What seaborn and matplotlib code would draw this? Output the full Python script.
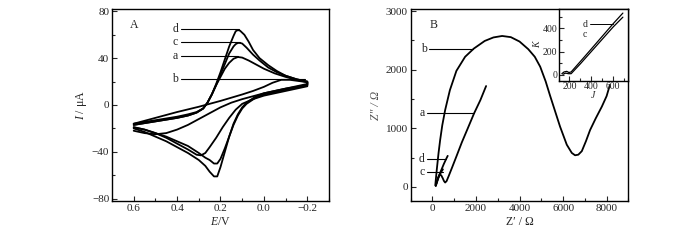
import matplotlib
matplotlib.use("Agg")
import matplotlib.pyplot as plt
import seaborn as sns
from matplotlib.ticker import MultipleLocator

# ---------------- Panel A: cyclic voltammograms ----------------
# curve a
a_E = [0.60, 0.50, 0.40, 0.35, 0.31, 0.28, 0.26, 0.24, 0.22, 0.20, 0.18, 0.16, 0.14, 0.12, 0.10,
       0.07, 0.04, 0.00, -0.05, -0.10, -0.15, -0.20,
       -0.20, -0.10, 0.00, 0.05, 0.10, 0.13, 0.16, 0.19, 0.22, 0.25, 0.27, 0.29, 0.31, 0.35,
       0.40, 0.45, 0.50, 0.55, 0.60]
a_I = [-16, -13, -10, -8, -6, -3, 2, 9, 17, 24, 31, 36, 39.5, 41, 40.5,
       38, 35, 31, 27, 24, 21.5, 19.5,
       16, 12, 8, 5, 1, -4, -11, -19, -28, -36, -41, -43, -42.5, -38,
       -33, -28, -24, -21, -19]
# curve b
b_E = [0.60, 0.50, 0.40, 0.30, 0.20, 0.10, 0.05, 0.00, -0.04, -0.08, -0.12, -0.16, -0.20,
       -0.20, -0.10, 0.00, 0.10, 0.15, 0.20, 0.25, 0.30, 0.35, 0.40, 0.45, 0.50, 0.55, 0.60]
b_I = [-16, -11, -6, -1.5, 3.5, 9, 12, 15.5, 19, 21.5, 21.5, 20.5, 19.5,
       17, 14, 10, 5, 2, -2, -7, -12, -17, -21, -24, -25, -24, -22]
# curve c
c_E = [0.60, 0.50, 0.40, 0.35, 0.31, 0.28, 0.26, 0.24, 0.22, 0.20, 0.18, 0.16, 0.14, 0.13, 0.12,
       0.11, 0.10, 0.08, 0.05, 0.02, -0.02, -0.06, -0.10, -0.15, -0.20,
       -0.20, -0.10, -0.05, 0.00, 0.04, 0.08, 0.10, 0.12, 0.14, 0.16, 0.18, 0.20, 0.215, 0.23,
       0.25, 0.27, 0.30, 0.35, 0.40, 0.45, 0.50, 0.55, 0.60]
c_I = [-17, -14, -11, -9, -6.5, -3, 2, 9, 17, 26, 35, 44, 50, 52, 53,
       53, 52.5, 49, 43, 38, 32, 28, 25, 22, 20,
       17, 13, 11, 9, 6, 1, -3, -9, -17, -27, -37, -46, -50, -50,
       -47, -45, -41, -35, -31, -27, -24, -21, -19]
# curve d
d_E = [0.60, 0.55, 0.50, 0.45, 0.40, 0.35, 0.31, 0.28, 0.26, 0.24, 0.22, 0.20, 0.18, 0.16, 0.14,
       0.13, 0.12, 0.11, 0.09, 0.07, 0.05, 0.02, -0.02, -0.06, -0.10, -0.15, -0.20,
       -0.20, -0.15, -0.10, -0.05, 0.00, 0.04, 0.08, 0.10, 0.12, 0.14, 0.16, 0.18, 0.20, 0.215,
       0.23, 0.25, 0.27, 0.30, 0.35, 0.40, 0.45, 0.50, 0.55, 0.60]
d_I = [-17, -15.5, -14, -12.5, -11, -9, -6.5, -3, 2, 9, 18, 28, 39, 50, 59,
       63, 64, 63.5, 60, 54, 47, 40, 34, 29, 25, 22, 20,
       18, 16, 14, 12, 10, 7, 2, -2, -8, -16, -27, -40, -53, -61,
       -61, -57, -52, -47, -41, -36, -31, -27, -23, -20]

cv_labels = ["a", "b", "c", "d"]
cv_label_I = [42, 22, 54, 65]
cv_label_end = [0.12, -0.19, 0.108, 0.116]

# ---------------- Panel B: Nyquist plots ----------------
nb_Zr = [130, 200, 280, 353, 450, 583, 800, 1100, 1500, 1900, 2400, 2800, 3200, 3600, 4000,
         4400, 4700, 4950, 5200, 5400, 5860, 6170, 6400, 6550, 6700, 6860, 7050, 7240, 7500,
         7780, 8000, 8150]
nb_Zi = [30, 300, 580, 800, 1050, 1312, 1650, 1980, 2220, 2360, 2490, 2550, 2575, 2555, 2480,
         2350, 2220, 2050, 1800, 1560, 1030, 720, 580, 540, 550, 610, 780, 970, 1170,
         1370, 1550, 1740]
na_Zr = [150, 200, 260, 320, 400, 470, 530, 583, 650, 750, 900, 1100, 1349, 1600, 1913, 2200, 2464]
na_Zi = [20, 90, 160, 205, 200, 150, 100, 75, 100, 190, 330, 520, 760, 980, 1256, 1480, 1721]
nc_Zr = [150, 180, 220, 270, 330, 400, 480]
nc_Zi = [20, 50, 95, 150, 205, 255, 300]
nd_Zr = [150, 200, 260, 330, 420, 520, 620, 700]
nd_Zi = [20, 80, 150, 220, 300, 390, 470, 530]

ny_labels = ["b", "a", "d", "c"]
ny_label_Zi = [2347, 1256, 472, 261]
ny_label_end = [1882, 1913, 620, 470]

# inset
in_d_J = [130, 150, 175, 195, 215, 300, 400, 500, 600, 690]
in_d_K = [10, 25, 30, 20, 25, 115, 222, 330, 438, 530]
in_c_J = [140, 165, 190, 215, 300, 400, 500, 600, 690]
in_c_K = [5, 15, 10, 10, 95, 200, 305, 410, 495]

# ---------------- style ----------------
sns.set_style("ticks")
plt.rcParams["font.family"] = ["Liberation Serif", "DejaVu Serif"]
plt.rcParams["mathtext.fontset"] = "custom"
plt.rcParams["mathtext.rm"] = "Liberation Serif"
plt.rcParams["mathtext.it"] = "Liberation Serif:italic"
plt.rcParams["axes.linewidth"] = 1.0

fig = plt.figure(figsize=(7, 2.4), dpi=100)
axA = fig.add_axes([0.16, 0.1625, 0.31, 0.80])
axB = fig.add_axes([0.5867, 0.1625, 0.311, 0.80])
axI = fig.add_axes([0.798, 0.6638, 0.0996, 0.2987])

lw = 1.3
for E, I in [(a_E, a_I), (b_E, b_I), (c_E, c_I), (d_E, d_I)]:
    sns.lineplot(x=E, y=I, sort=False, estimator=None, color="black", lw=lw, ax=axA)

axA.set_xlim(0.7, -0.3)
axA.set_ylim(-82, 82)
axA.xaxis.set_minor_locator(MultipleLocator(0.1))
axA.yaxis.set_minor_locator(MultipleLocator(20))
axA.set_xticks([0.6, 0.4, 0.2, 0.0, -0.2])
axA.set_xticklabels(["0.6", "0.4", "0.2", "0.0", "\u22120.2"])
axA.set_yticks([-80, -40, 0, 40, 80])
axA.set_yticklabels(["\u221280", "\u221240", "0", "40", "80"])
axA.set_xlabel(r"$E$/V", fontsize=8.5, labelpad=2)
axA.set_ylabel(r"$I$ / μA", fontsize=8.5, labelpad=2)
axA.text(0.6, 68, "A", fontsize=8.5, ha="center", va="center")
for lab, yy, xe in zip(cv_labels, cv_label_I, cv_label_end):
    axA.plot([0.38, xe], [yy, yy], color="black", lw=0.8)
    axA.text(0.395, yy, lab, fontsize=8.5, ha="right", va="center")

sns.lineplot(x=nb_Zr, y=nb_Zi, sort=False, estimator=None, color="black", lw=lw, ax=axB)
sns.lineplot(x=na_Zr, y=na_Zi, sort=False, estimator=None, color="black", lw=lw, ax=axB)
sns.lineplot(x=nc_Zr, y=nc_Zi, sort=False, estimator=None, color="black", lw=lw, ax=axB)
sns.lineplot(x=nd_Zr, y=nd_Zi, sort=False, estimator=None, color="black", lw=lw, ax=axB)
axB.set_xlim(-1000, 9000)
axB.set_ylim(-240, 3035)
axB.xaxis.set_minor_locator(MultipleLocator(1000))
axB.yaxis.set_minor_locator(MultipleLocator(500))
axB.set_xticks([0, 2000, 4000, 6000, 8000])
axB.set_yticks([0, 1000, 2000, 3000])
axB.set_xlabel("Z\u2032 / \u03a9", fontsize=8.5, labelpad=2)
axB.set_ylabel("Z\u2033 / \u03a9", fontsize=8.5, labelpad=3, color="#555555", fontstyle="italic")
axB.text(46, 2761, "B", fontsize=8.5, ha="center", va="center")
for lab, yy, xe in zip(ny_labels, ny_label_Zi, ny_label_end):
    x0 = -229 if lab != "b" else -151
    axB.plot([x0, xe], [yy, yy], color="black", lw=0.8)
    axB.text(x0 - 120, yy, lab, fontsize=8.5, ha="right", va="center")

sns.lineplot(x=in_d_J, y=in_d_K, sort=False, estimator=None, color="black", lw=0.9, ax=axI)
sns.lineplot(x=in_c_J, y=in_c_K, sort=False, estimator=None, color="black", lw=0.9, ax=axI)
axI.set_xlim(100, 740)
axI.set_ylim(-50, 565)
axI.set_xticks([200, 400, 600])
axI.set_yticks([0, 200, 400])
axI.xaxis.set_minor_locator(MultipleLocator(100))
axI.yaxis.set_minor_locator(MultipleLocator(100))
axI.set_xlabel("J", fontsize=7, fontstyle="italic", labelpad=0)
axI.set_ylabel("K", fontsize=7, fontstyle="italic", labelpad=0)
axI.plot([386, 600], [434, 434], color="black", lw=0.7)
axI.text(340, 434, "d", fontsize=7, ha="center", va="center")
axI.text(340, 348, "c", fontsize=7, ha="center", va="center")

for ax, fs in [(axA, 8), (axB, 8), (axI, 7)]:
    ax.tick_params(which="both", direction="in", top=False, right=False,
                   labelsize=fs, pad=2, width=0.8)
    ax.tick_params(which="major", length=3.5)
    ax.tick_params(which="minor", length=2)
    for s in ax.spines.values():
        s.set_visible(True)
        s.set_color("black")
axI.tick_params(which="both", pad=1)
axI.patch.set_facecolor("white")

fig.savefig("out.png", dpi=100)
